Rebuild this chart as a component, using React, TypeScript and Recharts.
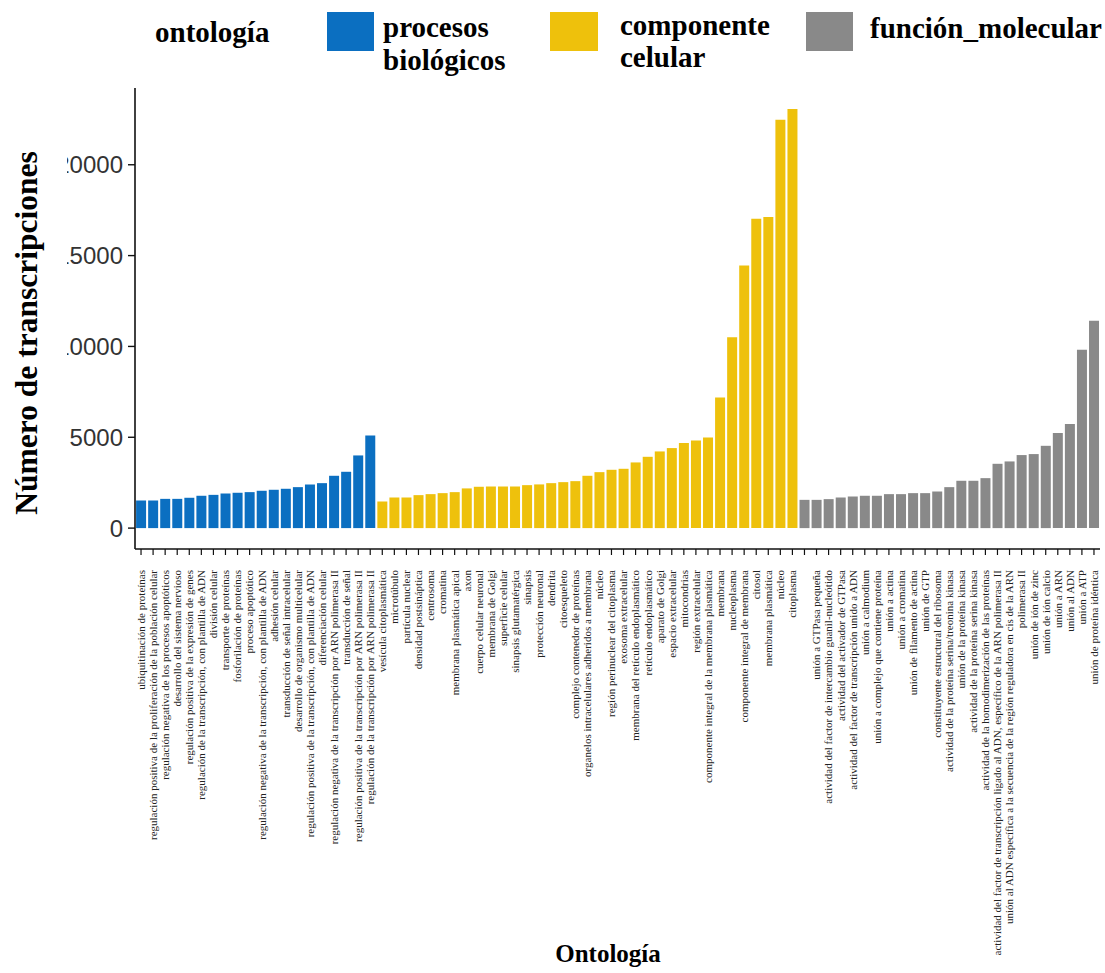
import React from "react";
import { BarChart, Bar, XAxis, YAxis, Cell } from "recharts";

// ---- data ----
const bioLabels = [
  "ubiquitinación de proteínas",
  "regulación positiva de la proliferación de la población celular",
  "regulación negativa de los procesos apoptóticos",
  "desarrollo del sistema nervioso",
  "regulación positiva de la expresión de genes",
  "regulación de la transcripción, con plantilla de ADN",
  "división celular",
  "transporte de proteínas",
  "fosforilación de proteínas",
  "proceso apoptótico",
  "regulación negativa de la transcripción, con plantilla de ADN",
  "adhesión celular",
  "transducción de señal intracelular",
  "desarrollo de organismo multicelular",
  "regulación positiva de la transcripción, con plantilla de ADN",
  "diferenciación celular",
  "regulación negativa de la transcripción por ARN polimerasa II",
  "transducción de señal",
  "regulación positiva de la transcripción por ARN polimerasa II",
  "regulación de la transcripción por ARN polimerasa II",
];
const bioValues = [
  1520, 1520, 1610, 1610, 1670, 1780, 1830, 1905, 1945, 1980,
  2055, 2110, 2165, 2255, 2400, 2475, 2880, 3100, 4000, 5100,
];

const cellLabels = [
  "vesícula citoplasmática",
  "microtúbulo",
  "partícula nuclear",
  "densidad postsináptica",
  "centrosoma",
  "cromatina",
  "membrana plasmática apical",
  "axon",
  "cuerpo celular neuronal",
  "membrana de Golgi",
  "superficie celular",
  "sinapsis glutamatérgica",
  "sinapsis",
  "protección neuronal",
  "dendrita",
  "citoesqueleto",
  "complejo contenedor de proteínas",
  "organelos intracelulares adheridos a membrana",
  "núcleo",
  "región perinuclear del citoplasma",
  "exosoma extracelular",
  "membrana del retículo endoplasmático",
  "retículo endoplasmático",
  "aparato de Golgi",
  "espacio extracelular",
  "mitocondrias",
  "región extracelular",
  "componente integral de la membrana plasmática",
  "membrana",
  "nucleoplasma",
  "componente integral de membrana",
  "citosol",
  "membrana plasmática",
  "núcleo",
  "citoplasma",
];
const cellValues = [
  1465, 1685, 1685, 1815, 1870, 1925, 1980, 2185, 2275, 2290,
  2290, 2290, 2365, 2405, 2475, 2530, 2585, 2880, 3080, 3210,
  3265, 3615, 3925, 4220, 4405, 4680, 4825, 4990, 7195, 10500,
  14460, 17030, 17120, 22480, 23070,
];

const molLabels = [
  "",
  "unión a GTPasa pequeña",
  "actividad del factor de intercambio guanil-nucleótido",
  "actividad del activador de GTPasa",
  "actividad del factor de transcripción unido a ADN",
  "unión a calmodium",
  "unión a complejo que contiene proteína",
  "unión a actina",
  "unión a cromatina",
  "unión de filamento de actina",
  "unión de GTP",
  "constituyente estructural del ribosoma",
  "actividad de la proteína serina/treonina kinasa",
  "unión de la proteína kinasa",
  "actividad de la proteína serina kinasa",
  "actividad de la homodimerización de las proteínas",
  "actividad del factor de transcripción ligado al ADN, específico de la ARN polimerasa II",
  "unión al ADN específica a la secuencia de la región reguladora en cis de la ARN",
  "polimerasa II",
  "unión de ión de zinc",
  "unión de ión calcio",
  "unión a ARN",
  "unión al ADN",
  "unión a ATP",
  "unión de proteína idéntica",
];
const molValues = [
  1555, 1555, 1595, 1685, 1740, 1780, 1780, 1870, 1870, 1925,
  1925, 2015, 2255, 2605, 2605, 2750, 3540, 3670, 4020, 4075,
  4530, 5230, 5725, 9820, 11415,
];

const yTicks = [0, 5000, 10000, 15000, 20000];
const legendTitle = "ontología";
const groups = [
  { id: "bio", lines: ["procesos", "biológicos"], color: "#0b6fc1" },
  { id: "cell", lines: ["componente", "celular"], color: "#eec10c" },
  { id: "mol", lines: ["función_molecular"], color: "#898989" },
];

const colorOf: Record<string, string> = {
  bio: groups[0].color,
  cell: groups[1].color,
  mol: groups[2].color,
};

type Row = { key: string; label: string; group: string; value: number };
const data: Row[] = [
  ...bioLabels.map((l, i) => ({ key: "b" + i, label: l, group: "bio", value: bioValues[i] })),
  ...cellLabels.map((l, i) => ({ key: "c" + i, label: l, group: "cell", value: cellValues[i] })),
  ...molLabels.map((l, i) => ({ key: "m" + i, label: l, group: "mol", value: molValues[i] })),
];
const labelByKey: Record<string, string> = {};
data.forEach((d) => (labelByKey[d.key] = d.label));

const serif = "'Liberation Serif', 'Times New Roman', serif";

const XTick = (props: any) => {
  const { x, y, payload } = props;
  const label = labelByKey[payload.value] || "";
  return (
    <text
      x={x}
      y={y}
      transform={`rotate(-90, ${x}, ${y})`}
      textAnchor="end"
      dy="0.35em"
      fontFamily={serif}
      fontSize={11}
      fill="#222"
    >
      {label}
    </text>
  );
};

const YTick = (props: any) => {
  const { x, y, payload } = props;
  return (
    <text
      x={x}
      y={y}
      textAnchor="end"
      dy="0.36em"
      fontFamily="'Liberation Sans', Arial, sans-serif"
      fontSize={24}
      fill="#333"
    >
      {payload.value}
    </text>
  );
};

export default function App() {
  return (
    <div
      style={{
        position: "absolute",
        left: 0,
        top: 0,
        width: 1105,
        height: 973,
        background: "#fff",
        overflow: "hidden",
      }}
    >
      <BarChart
        width={1105}
        height={973}
        data={data}
        margin={{ top: 88, right: 5, bottom: 124, left: 0 }}
        barCategoryGap="9%"
      >
        <XAxis
          dataKey="key"
          interval={0}
          height={300}
          tick={<XTick />}
          tickSize={6}
          tickMargin={15}
          axisLine={{ stroke: "#111", strokeWidth: 1.6 }}
          tickLine={{ stroke: "#111", strokeWidth: 1.2 }}
        />
        <YAxis
          width={135}
          domain={[-1150, 24225]}
          ticks={yTicks}
          allowDataOverflow
          tick={<YTick />}
          tickSize={7}
          tickMargin={5}
          axisLine={{ stroke: "#111", strokeWidth: 1.6 }}
          tickLine={{ stroke: "#111", strokeWidth: 1.4 }}
        />
        <Bar dataKey="value" isAnimationActive={false}>
          {data.map((d) => (
            <Cell key={d.key} fill={colorOf[d.group]} />
          ))}
        </Bar>
      </BarChart>
      <svg
        width={1105}
        height={973}
        style={{ position: "absolute", left: 0, top: 0, pointerEvents: "none" }}
      >
        <rect x={0} y={90} width={67} height={455} fill="#fff" />
        <text
          x={37}
          y={333}
          transform="rotate(-90, 37, 333)"
          textAnchor="middle"
          fontFamily={serif}
          fontWeight="bold"
          fontSize={31.5}
          fill="#000"
        >
          Número de transcripciones
        </text>
        <text
          x={608}
          y={962}
          textAnchor="middle"
          fontFamily={serif}
          fontWeight="bold"
          fontSize={25}
          fill="#000"
        >
          Ontología
        </text>
        <text x={155} y={42} fontFamily={serif} fontWeight="bold" fontSize={29} fill="#000">
          {legendTitle}
        </text>
        <rect x={327} y={12} width={47} height={39} fill={groups[0].color} />
        <text x={383} y={37} fontFamily={serif} fontWeight="bold" fontSize={29} fill="#000">
          {groups[0].lines[0]}
        </text>
        <text x={383} y={70} fontFamily={serif} fontWeight="bold" fontSize={29} fill="#000">
          {groups[0].lines[1]}
        </text>
        <rect x={550} y={12} width={48} height={39} fill={groups[1].color} />
        <text x={620} y={35} fontFamily={serif} fontWeight="bold" fontSize={29} fill="#000">
          {groups[1].lines[0]}
        </text>
        <text x={620} y={67} fontFamily={serif} fontWeight="bold" fontSize={29} fill="#000">
          {groups[1].lines[1]}
        </text>
        <rect x={806} y={12} width={47} height={39} fill={groups[2].color} />
        <text x={870} y={38} fontFamily={serif} fontWeight="bold" fontSize={29} fill="#000">
          {groups[2].lines[0]}
        </text>
      </svg>
    </div>
  );
}
